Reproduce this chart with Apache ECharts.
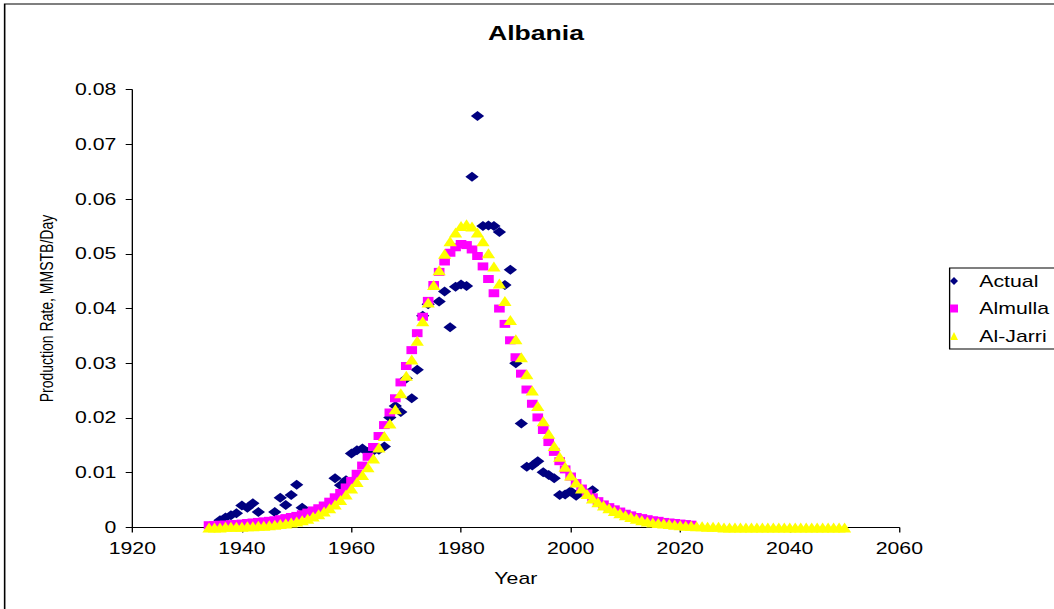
<!DOCTYPE html>
<html>
<head>
<meta charset="utf-8">
<title>Albania</title>
<script src="https://cdn.jsdelivr.net/npm/echarts/dist/echarts.min.js"></script>
<style>
  html, body { margin: 0; padding: 0; background: #fff; overflow: hidden; }
  #frame { width: 1054px; height: 609px; overflow: hidden; position: relative; background: #fff; }
  /* the chart is laid out narrow and widened, giving the wide glyphs of the sheet */
  #chart { width: 793px; height: 609px; transform: scaleX(1.33); transform-origin: 0 0; }
</style>
</head>
<body>
<div id="frame"><div id="chart"></div></div>
<script>
// ---- data -------------------------------------------------------------
const seriesNames = ['Actual', 'Almulla', 'Al-Jarri'];

// measured production, MMSTB/Day
const actualYears = [
  1936, 1937, 1938, 1939, 1940, 1941, 1942, 1943, 1946, 1947, 1948, 1949, 1950, 1951,
  1957, 1958, 1959, 1960, 1961, 1962, 1963, 1964, 1965, 1966, 1967, 1968, 1969, 1970,
  1971, 1972, 1973, 1974, 1976, 1977, 1978, 1979, 1980, 1981, 1982, 1983, 1984, 1985,
  1986, 1987, 1988, 1989, 1990, 1991, 1992, 1993, 1994, 1995, 1996, 1997, 1998, 1999,
  2000, 2001, 2002, 2003, 2004
];
const actualValues = [
  0.0013, 0.0018, 0.0022, 0.0026, 0.0040, 0.0036, 0.0044, 0.0028, 0.0028, 0.0054, 0.0041, 0.0059, 0.0078, 0.0036,
  0.0090, 0.0077, 0.0086, 0.0135, 0.0141, 0.0144, 0.0138, 0.0140, 0.0142, 0.0148, 0.0201, 0.0222, 0.0211, 0.0272,
  0.0236, 0.0288, 0.0387, 0.0408, 0.0413, 0.0431, 0.0366, 0.0440, 0.0444, 0.0441, 0.0641, 0.0752, 0.0551, 0.0552,
  0.0551, 0.0540, 0.0443, 0.0471, 0.0300, 0.0190, 0.0111, 0.0113, 0.0121, 0.0101, 0.0096, 0.0090, 0.0059, 0.0060,
  0.0066, 0.0058, 0.0066, 0.0062, 0.0068
];

// model curves, one value per year from modelStartYear
const modelStartYear = 1934;
const almullaValues = [
  0.0004, 0.0004, 0.0005, 0.0005, 0.0006, 0.0006, 0.0007, 0.0008, 0.0009, 0.0010, // 1934-1943
  0.0011, 0.0012, 0.0013, 0.0015, 0.0017, 0.0019, 0.0021, 0.0024, 0.0027, 0.0031, // 1944-1953
  0.0035, 0.0040, 0.0047, 0.0055, 0.0063, 0.0073, 0.0085, 0.0098, 0.0113, 0.0129, // 1954-1963
  0.0147, 0.0167, 0.0187, 0.0210, 0.0236, 0.0265, 0.0295, 0.0324, 0.0355, 0.0385, // 1964-1973
  0.0414, 0.0443, 0.0467, 0.0486, 0.0502, 0.0512, 0.0518, 0.0516, 0.0508, 0.0496, // 1974-1983
  0.0477, 0.0454, 0.0428, 0.0400, 0.0372, 0.0342, 0.0311, 0.0281, 0.0252, 0.0226, // 1984-1993
  0.0201, 0.0178, 0.0156, 0.0138, 0.0121, 0.0106, 0.0093, 0.0081, 0.0071, 0.0062, // 1994-2003
  0.0055, 0.0048, 0.0042, 0.0037, 0.0033, 0.0029, 0.0025, 0.0022, 0.0019, 0.0017, // 2004-2013
  0.0015, 0.0013, 0.0012, 0.0010, 0.0009, 0.0008, 0.0007, 0.0006, 0.0005           // 2014-2022
];
const aljarriValues = [
  0.0000, 0.0000, 0.0000, 0.0001, 0.0001, 0.0001, 0.0001, 0.0002, 0.0002, 0.0003, // 1934-1943
  0.0003, 0.0004, 0.0005, 0.0006, 0.0007, 0.0009, 0.0011, 0.0013, 0.0016, 0.0020, // 1944-1953
  0.0024, 0.0029, 0.0035, 0.0042, 0.0050, 0.0060, 0.0071, 0.0083, 0.0096, 0.0110, // 1954-1963
  0.0126, 0.0146, 0.0167, 0.0190, 0.0216, 0.0245, 0.0277, 0.0307, 0.0341, 0.0377, // 1964-1973
  0.0411, 0.0443, 0.0470, 0.0500, 0.0523, 0.0539, 0.0551, 0.0554, 0.0550, 0.0539, // 1974-1983
  0.0523, 0.0501, 0.0477, 0.0446, 0.0414, 0.0379, 0.0344, 0.0311, 0.0280, 0.0250, // 1984-1993
  0.0222, 0.0194, 0.0171, 0.0149, 0.0129, 0.0111, 0.0095, 0.0082, 0.0071, 0.0061, // 1994-2003
  0.0053, 0.0046, 0.0040, 0.0035, 0.0030, 0.0026, 0.0022, 0.0019, 0.0016, 0.0013, // 2004-2013
  0.0011, 0.0009, 0.0008, 0.0007, 0.0006, 0.0005, 0.0004, 0.0003, 0.0003, 0.0002, // 2014-2023
  0.0002, 0.0001, 0.0001, 0.0001, 0.0000, 0.0000, 0.0000, 0.0000, 0.0000, 0.0000, // 2024-2033
  0.0000, 0.0000, 0.0000, 0.0000, 0.0000, 0.0000, 0.0000, 0.0000, 0.0000, 0.0000, // 2034-2043
  0.0000, 0.0000, 0.0000, 0.0000, 0.0000, 0.0000, 0.0000                          // 2044-2050
];

// axis ranges
const xMin = 1920, xMax = 2060, xStep = 20;
const yMin = 0, yMax = 0.08, yStep = 0.01;

// ---- build ------------------------------------------------------------
const FONT = "'Liberation Sans', Arial, Helvetica, sans-serif";

const actualData = actualYears.map((y, i) => [y, actualValues[i]]);
const almullaData = almullaValues.map((v, i) => [modelStartYear + i, v]);
const aljarriData = aljarriValues.map((v, i) => [modelStartYear + i, v]);

const chart = echarts.init(document.getElementById('chart'), null, { renderer: 'svg' });

chart.setOption({
  animation: false,
  backgroundColor: '#ffffff',
  textStyle: { fontFamily: FONT, color: '#000' },
  grid: {
    left: 99.5, right: 116.8, top: 89.7, bottom: 81.6,
    containLabel: false, outerBoundsMode: 'none'
  },
  graphic: [
    { // outer frame of the chart sheet
      type: 'rect', silent: true, z: -10,
      shape: { x: 3.5, y: 4, width: 1000, height: 1000 },
      style: { fill: 'none', stroke: '#000', lineWidth: 1.2 }
    },
    { // legend box
      type: 'rect', silent: true, z: -5,
      shape: { x: 714, y: 268, width: 200, height: 81 },
      style: { fill: '#fff', stroke: '#000', lineWidth: 1 }
    },
    {
      type: 'text', silent: true,
      x: 403, y: 23,
      style: {
        text: 'Albania', textAlign: 'center', textVerticalAlign: 'top',
        font: 'bold 20px ' + FONT, fill: '#000'
      }
    }
  ],
  legend: {
    orient: 'vertical',
    left: 714.3, top: 273, padding: 0,
    itemWidth: 6, itemHeight: 8, itemGap: 11.5,
    selectedMode: false,
    itemStyle: { opacity: 1 },
    textStyle: { fontSize: 16, color: '#000', fontFamily: FONT, padding: [0, 0, 0, 11] },
    data: seriesNames
  },
  xAxis: {
    type: 'value', min: xMin, max: xMax, interval: xStep,
    name: 'Year', nameLocation: 'middle', nameGap: 43,
    nameTextStyle: { fontSize: 16, color: '#000', fontFamily: FONT },
    axisLine: { show: true, onZero: false, lineStyle: { color: '#000', width: 1 } },
    axisTick: { show: true, length: 5, lineStyle: { color: '#000' } },
    axisLabel: {
      margin: 13, fontSize: 16, color: '#000', fontFamily: FONT,
      formatter: v => String(v)
    },
    splitLine: { show: false }
  },
  yAxis: {
    type: 'value', min: yMin, max: yMax, interval: yStep,
    name: 'Production Rate, MMSTB/Day', nameLocation: 'middle', nameGap: 58, nameRotate: 90,
    nameTextStyle: { fontSize: 14, color: '#000', fontFamily: FONT },
    axisLine: { show: true, onZero: false, lineStyle: { color: '#000', width: 1 } },
    axisTick: { show: true, length: 5, lineStyle: { color: '#000' } },
    axisLabel: {
      margin: 12, fontSize: 16, color: '#000', fontFamily: FONT,
      formatter: v => (v === 0 ? '0' : v.toFixed(2))
    },
    splitLine: { show: false }
  },
  series: [
    {
      name: seriesNames[0], type: 'scatter', data: actualData,
      symbol: 'diamond', symbolSize: 10,
      itemStyle: { color: '#000080', opacity: 1 }, emphasis: { disabled: true }
    },
    {
      name: seriesNames[1], type: 'scatter', data: almullaData,
      symbol: 'rect', symbolSize: 8,
      itemStyle: { color: '#ff00ff', opacity: 1 }, emphasis: { disabled: true }
    },
    {
      name: seriesNames[2], type: 'scatter', data: aljarriData,
      symbol: 'triangle', symbolSize: 10,
      itemStyle: { color: '#ffff00', opacity: 1 }, emphasis: { disabled: true }
    }
  ]
});
</script>
</body>
</html>
